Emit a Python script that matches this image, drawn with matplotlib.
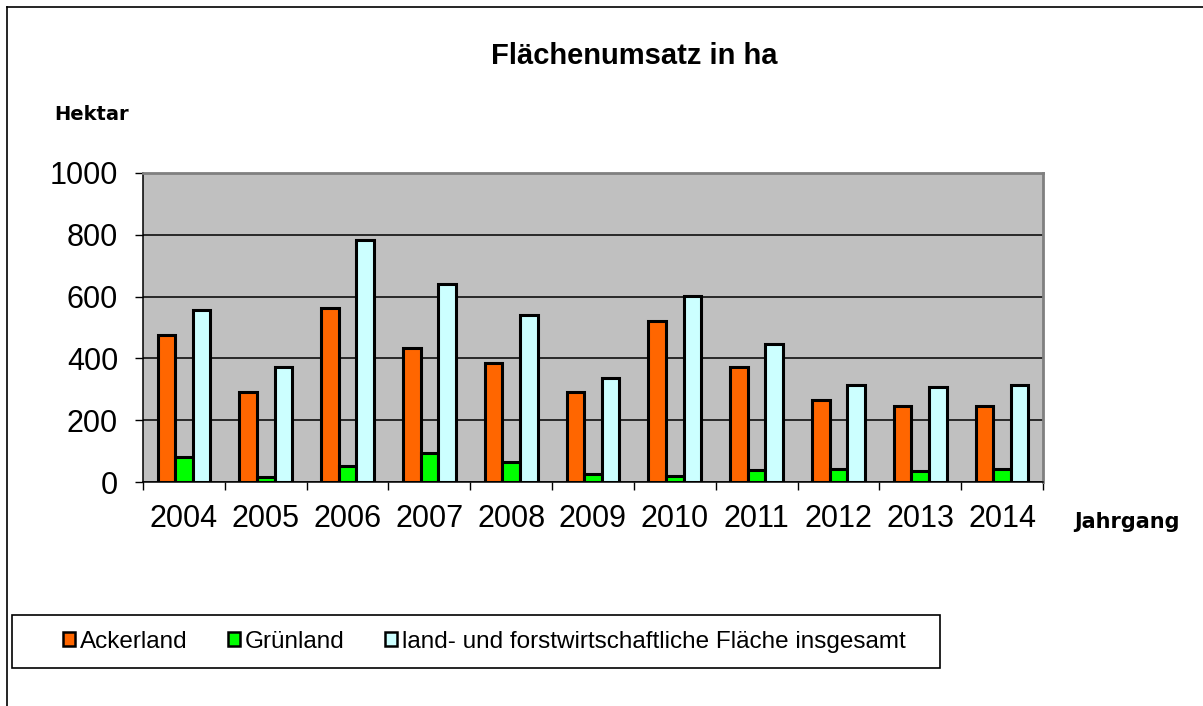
import matplotlib.pyplot as plt
from matplotlib.patches import Rectangle, Patch
from matplotlib.lines import Line2D
import numpy as np

jahre = ['2004', '2005', '2006', '2007', '2008', '2009', '2010', '2011', '2012', '2013', '2014']
ackerland = [475, 290, 562, 435, 384, 290, 522, 373, 266, 246, 246]
gruenland = [81, 16, 52, 93, 66, 27, 20, 38, 43, 36, 43]
insgesamt = [556, 373, 783, 641, 540, 338, 603, 446, 314, 306, 314]
namen = ['Ackerland', 'Grünland', 'land- und forstwirtschaftliche Fläche insgesamt']
farben = ['#FF6600', '#00FF00', '#CCFFFF']

W, H = 1203, 706
fig = plt.figure(figsize=(W / 100, H / 100), dpi=100)
plt.rcParams['font.family'] = ['Liberation Sans', 'DejaVu Sans']

# plot area in pixel coordinates
x0, x1, ytop, ybot = 143, 1043, 173, 482
ax = fig.add_axes([x0 / W, 1 - ybot / H, (x1 - x0) / W, (ybot - ytop) / H])
ax.set_facecolor('#C0C0C0')

x = np.arange(len(jahre))
w = 0.215
for i, (werte, farbe) in enumerate(zip([ackerland, gruenland, insgesamt], farben)):
    ax.bar(x + (i - 1) * w, werte, w, color=farbe, edgecolor='black', linewidth=2.2, zorder=3)

ax.set_xlim(-0.5, len(jahre) - 0.5)
ax.set_ylim(0, 1000)
ax.set_yticks(range(0, 1001, 200))
ax.tick_params(axis='y', labelsize=22, length=6, width=1, pad=12)
ax.set_xticks(x)
ax.set_xticklabels(jahre)
ax.set_xticks(np.arange(-0.5, len(jahre), 1), minor=True)
ax.tick_params(axis='x', which='major', length=0, labelsize=22, pad=16)
ax.tick_params(axis='x', which='minor', length=6, width=1)
ax.grid(axis='y', color='black', linewidth=1.1, zorder=1)
for s in ['left', 'bottom']:
    ax.spines[s].set_color('black')
    ax.spines[s].set_linewidth(1.1)
for s in ['top', 'right']:
    ax.spines[s].set_color('#808080')
    ax.spines[s].set_linewidth(2)

def px(xp, yp):
    return xp / W, 1 - yp / H

fig.text(*px(634, 56), 'Flächenumsatz in ha', fontsize=21, fontweight='bold', ha='center', va='center')
fig.text(*px(92, 115), 'Hektar', fontsize=14, fontweight='bold', ha='center', va='center', family='DejaVu Sans')
fig.text(*px(1127, 522), 'Jahrgang', fontsize=15, fontweight='bold', ha='center', va='center', family='DejaVu Sans')

# outer frame
fig.add_artist(Line2D([7 / W, 1], [1 - 7 / H, 1 - 7 / H], color='black', linewidth=1.2))
fig.add_artist(Line2D([7 / W, 7 / W], [0, 1 - 7 / H], color='black', linewidth=1.2))

# legend box
fig.add_artist(Rectangle(px(12, 668), 928 / W, 53 / H, transform=fig.transFigure,
                         facecolor='white', edgecolor='black', linewidth=1.2))
handles = [Patch(facecolor=f, edgecolor='black', linewidth=1.8) for f in farben]
fig.legend(handles, namen, loc='center left', bbox_to_anchor=px(63, 642), ncol=3,
           frameon=False, fontsize=17.5, handlelength=0.5, handleheight=0.5,
           handletextpad=0.2, columnspacing=1.65, borderpad=0, borderaxespad=0)

fig.savefig('out.png', dpi=100)
